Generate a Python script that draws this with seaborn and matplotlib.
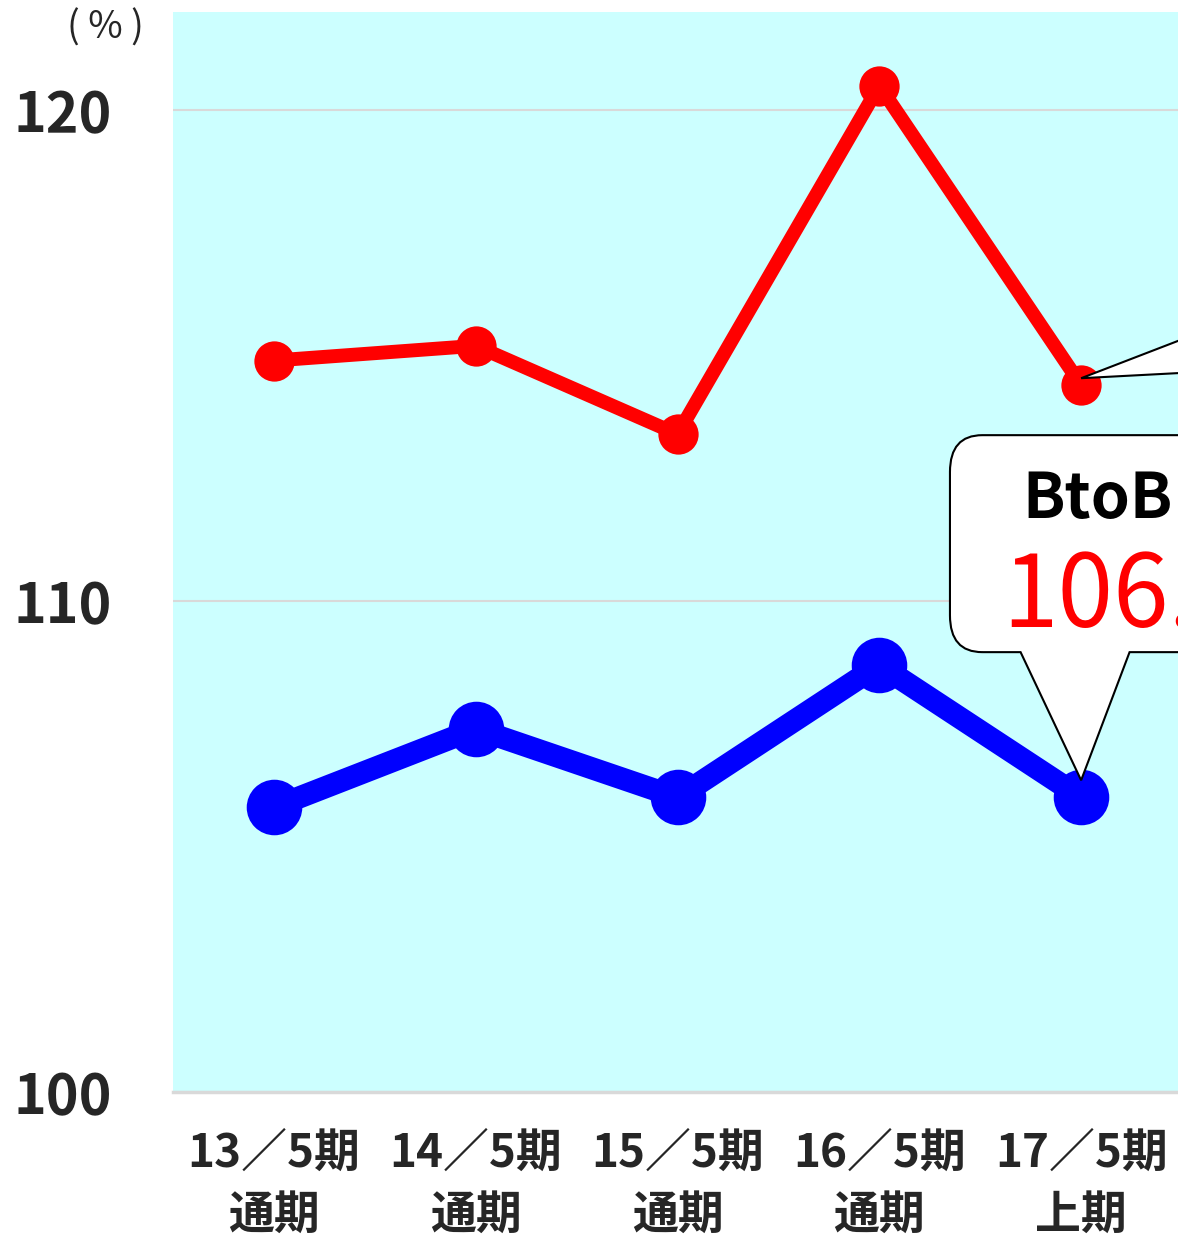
import numpy as np
import pandas as pd
import matplotlib
matplotlib.use("Agg")
import matplotlib.pyplot as plt
from matplotlib.patches import Polygon, PathPatch
from matplotlib.path import Path
import seaborn as sns

# ---- data ----
periods_top = ["13／5期", "14／5期", "15／5期", "16／5期", "17／5期"]
periods_bottom = ["通期", "通期", "通期", "通期", "上期"]
series_red = [114.9, 115.2, 113.4, 120.5, 114.4]
series_blue = [105.8, 107.4, 106.0, 108.7, 106.0]
callout_title = "BtoB"
callout_value = "106.0%"
yticks = [100, 110, 120]
unit_label = "( % )"

sns.set_style("white")
plt.rcParams['font.family'] = ['Noto Sans CJK JP', 'DejaVu Sans']

W, H = 1178, 1239
fig = plt.figure(figsize=(W / 100, H / 100), dpi=100)
ax = fig.add_axes([173 / W, (H - 1092) / H, 1 - 173 / W, (1092 - 12) / H])
ax.set_facecolor("#CCFFFF")

x = np.arange(len(periods_top))
df_r = pd.DataFrame({"x": x, "v": series_red})
df_b = pd.DataFrame({"x": x, "v": series_blue})

sns.lineplot(data=df_r, x="x", y="v", ax=ax, color="#FF0000", lw=10,
             marker="o", markersize=29, markeredgewidth=0, zorder=3)
sns.lineplot(data=df_b, x="x", y="v", ax=ax, color="#0000FF", lw=16,
             marker="o", markersize=40, markeredgewidth=0, zorder=3)

ax.set_xlim(-0.5, 4.48)
ax.set_ylim(100, 122)
ax.set_yticks(yticks)
ax.set_yticklabels([str(t) for t in yticks], fontsize=40, fontweight="bold")
ax.set_xticks(x)
ax.set_xticklabels([f"{a}\n{b}" for a, b in zip(periods_top, periods_bottom)],
                   fontsize=33, fontweight="bold", linespacing=1.45)
ax.tick_params(axis="y", length=0, pad=44)
ax.tick_params(axis="x", length=0, pad=28)
ax.set_xlabel("")
ax.set_ylabel("")
ax.grid(axis="y", color="#D9D9D9", lw=1.5, zorder=0)
ax.grid(axis="x", visible=False)
for s in ["top", "right", "left"]:
    ax.spines[s].set_visible(False)
ax.spines["bottom"].set_color("#D9D9D9")
ax.spines["bottom"].set_linewidth(2.5)

# red callout pointer (box is off-canvas to the right)
tx, ty = x[4], series_red[4] + 0.14
red_ptr = Polygon([(tx, ty), (tx + 0.6, ty + 0.95), (tx + 0.6, ty + 0.13)],
                  closed=True, facecolor="white", edgecolor="black", lw=1.5, zorder=4)
ax.add_patch(red_ptr)

# blue callout box with pointer
bx0, bx1 = 3.35, 5.0
by0, by1 = 108.96, 113.38
rx, ry = 0.16, 0.75
px0, px1 = 3.70, 4.24
tipx, tipy = x[4], series_blue[4] + 0.35
verts = [
    (bx0 + rx, by0), (px0, by0), (tipx, tipy), (px1, by0), (bx1, by0),
    (bx1, by1), (bx0 + rx, by1),
    (bx0, by1), (bx0, by1 - ry),
    (bx0, by0 + ry),
    (bx0, by0), (bx0 + rx, by0),
]
codes = [Path.MOVETO, Path.LINETO, Path.LINETO, Path.LINETO, Path.LINETO,
         Path.LINETO, Path.LINETO,
         Path.CURVE3, Path.CURVE3,
         Path.LINETO,
         Path.CURVE3, Path.CURVE3]
ax.add_patch(PathPatch(Path(verts, codes), facecolor="white", edgecolor="black",
                       lw=1.5, zorder=4))
ax.text(3.708, 112.06, callout_title, fontsize=45, fontweight="bold",
        color="black", ha="left", va="center", zorder=5)
ax.text(3.61, 110.06, callout_value, fontsize=72, color="#FF0000",
        ha="left", va="center", zorder=5)

fig.text(105 / W, 1 - 28 / H, unit_label, fontsize=27, ha="center", va="center")

fig.savefig("out.png", dpi=100)
